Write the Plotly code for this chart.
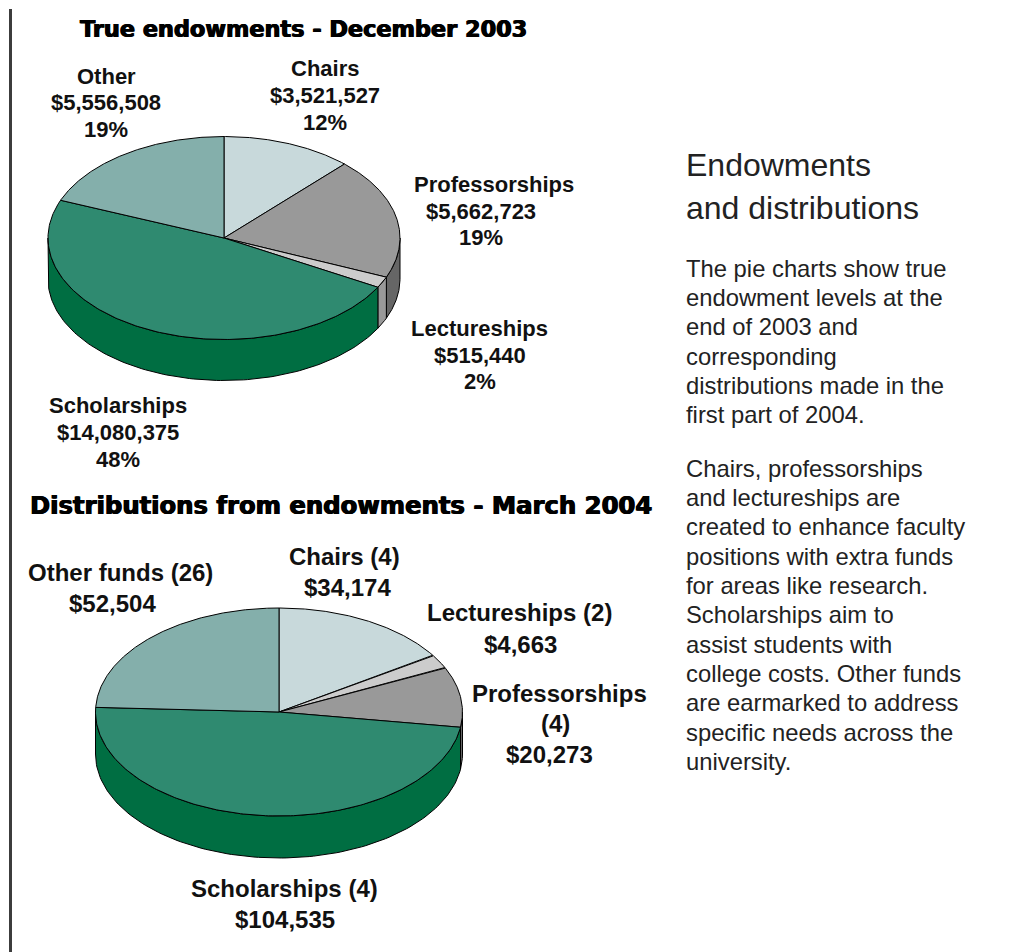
import numpy as np
import plotly.graph_objects as go

# ---- data ----
categories_2003 = ["Chairs", "Professorships", "Lectureships", "Scholarships", "Other"]
values_2003 = [3521527, 5662723, 515440, 14080375, 5556508]
categories_2004 = ["Chairs", "Lectureships", "Professorships", "Scholarships", "Other funds"]
values_2004 = [34174, 4663, 20273, 104535, 52504]

TOP = {"Chairs": "#c8d9db", "Professorships": "#999999", "Lectureships": "#cccccc",
       "Scholarships": "#2f8a70", "Other": "#84afab", "Other funds": "#84afab"}
SIDE = {"Chairs": "#8a9da0", "Professorships": "#666666", "Lectureships": "#999999",
        "Scholarships": "#006e42", "Other": "#55807c", "Other funds": "#55807c"}

fig = go.Figure()


def xy(theta, cx, cy, rx, ry, dz=0):
    return cx + rx * np.sin(theta), cy - ry * np.cos(theta) + dz


def add_pie(cats, vals, cx, cy, rx, ry, depth):
    vals = np.asarray(vals, float)
    edges = np.concatenate([[0], np.cumsum(vals) / vals.sum() * 2 * np.pi])
    # wall
    for c, a, b in zip(cats, edges[:-1], edges[1:]):
        lo, hi = max(a, np.pi / 2), min(b, 3 * np.pi / 2)
        if hi <= lo:
            continue
        t = np.linspace(lo, hi, 120)
        x1, y1 = xy(t, cx, cy, rx, ry)
        x2, y2 = xy(t[::-1], cx, cy, rx, ry, depth)
        fig.add_trace(go.Scatter(x=np.r_[x1, x2, x1[0]], y=np.r_[y1, y2, y1[0]], mode="lines",
                                 fill="toself", fillcolor=SIDE[c], line=dict(color="#000", width=1),
                                 name=c, hoverinfo="name", showlegend=False))
    # top face
    for c, a, b in zip(cats, edges[:-1], edges[1:]):
        t = np.linspace(a, b, 200)
        x, y = xy(t, cx, cy, rx, ry)
        fig.add_trace(go.Scatter(x=np.r_[cx, x, cx], y=np.r_[cy, y, cy], mode="lines",
                                 fill="toself", fillcolor=TOP[c], line=dict(color="#000", width=1),
                                 name=c, hoverinfo="name", showlegend=False))


add_pie(categories_2003, values_2003, 224, 238, 176, 101.5, 41)
add_pie(categories_2004, values_2004, 279, 712, 183.5, 104, 42)

LAB = "Liberation Sans"
texts = []


def T(s, x, y, size, color="#111111", bold=True, anchor="center", shadow=None, family=LAB):
    f = dict(family=family, size=size, color=color, weight=700 if bold else 400)
    if shadow:
        f["shadow"] = shadow
    texts.append(dict(text=s, x=x, y=y, xref="x", yref="y", showarrow=False, xanchor=anchor,
                      yanchor="middle", font=f))


fat = "0.6px 0 0 #000, -0.6px 0 0 #000"
T("True endowments - December 2003", 303, 29, 22.4, "#000", shadow=fat, family="DejaVu Sans")
T("Distributions from endowments - March 2004", 341, 505, 24.3, "#000", shadow=fat, family="DejaVu Sans")

for s, x, y in [("Other", 106, 76), ("$5,556,508", 106, 102), ("19%", 106, 129),
                ("Chairs", 325, 68), ("$3,521,527", 325, 95), ("12%", 325, 122),
                ("Professorships", 494, 184), ("$5,662,723", 481, 211), ("19%", 481, 237),
                ("Lectureships", 479.5, 328), ("$515,440", 479.5, 355), ("2%", 479.5, 381),
                ("Scholarships", 118, 405), ("$14,080,375", 118, 432), ("48%", 118, 459)]:
    T(s, x, y, 22)

for s, x, y in [("Other funds (26)", 120, 572), ("$52,504", 112, 603),
                ("Chairs (4)", 344, 556), ("$34,174", 347, 587),
                ("Lectureships (2)", 519, 612), ("$4,663", 520, 644),
                ("Professorships", 559, 693), ("(4)", 555, 723), ("$20,273", 549, 754),
                ("Scholarships (4)", 284, 888), ("$104,535", 285, 919)]:
    T(s, x, y, 24)

T("Endowments", 683.5, 165, 32, "#222", bold=False, anchor="left")
T("and distributions", 683.5, 208, 32, "#222", bold=False, anchor="left")

for s, y in [("The pie charts show true", 268), ("endowment levels at the", 297),
             ("end of 2003 and", 326), ("corresponding", 356),
             ("distributions made in the", 385), ("first part of 2004.", 414),
             ("Chairs, professorships", 468), ("and lectureships are", 497),
             ("created to enhance faculty", 526), ("positions with extra funds", 556),
             ("for areas like research.", 585), ("Scholarships aim to", 614),
             ("assist students with", 644), ("college costs. Other funds", 673),
             ("are earmarked to address", 702), ("specific needs across the", 732),
             ("university.", 761)]:
    T(s, 683.5, y, 23.8, "#222", bold=False, anchor="left")

fig.update_layout(
    width=1018, height=952, margin=dict(l=0, r=0, t=0, b=0), autosize=False,
    paper_bgcolor="#fff", plot_bgcolor="#fff", showlegend=False, annotations=texts,
    xaxis=dict(range=[0, 1018], visible=False, fixedrange=True),
    yaxis=dict(range=[952, 0], visible=False, fixedrange=True),
    shapes=[dict(type="line", x0=10.5, x1=10.5, y0=9, y1=952, xref="x", yref="y",
                 line=dict(color="#3c3c3c", width=3))],
)
fig.write_html("out.html", config={"displayModeBar": False},
               post_script="document.body.style.margin='0';document.body.style.overflow='hidden';")
